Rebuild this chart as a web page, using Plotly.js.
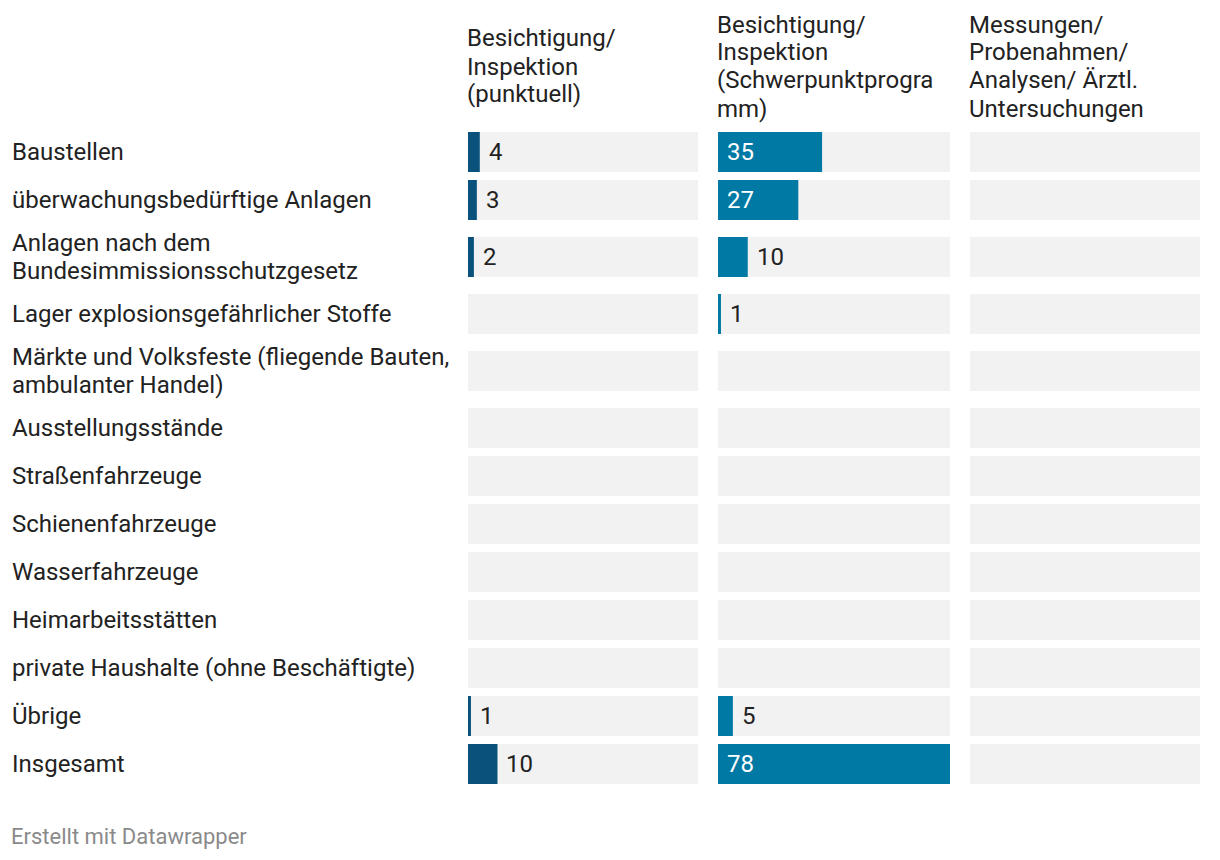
<!DOCTYPE html>
<html>
<head>
<meta charset="utf-8">
<script src="https://cdn.plot.ly/plotly-3.0.1.min.js"></script>
<style>
  html, body { margin: 0; padding: 0; background: #ffffff; }
  #chart { width: 1220px; height: 860px; }
</style>
</head>
<body>
<div id="chart"></div>
<script>
// ---- data ----
const categories = [
  "Baustellen",
  "überwachungsbedürftige Anlagen",
  "Anlagen nach dem<br>Bundesimmissionsschutzgesetz",
  "Lager explosionsgefährlicher Stoffe",
  "Märkte und Volksfeste (fliegende Bauten,<br>ambulanter Handel)",
  "Ausstellungsstände",
  "Straßenfahrzeuge",
  "Schienenfahrzeuge",
  "Wasserfahrzeuge",
  "Heimarbeitsstätten",
  "private Haushalte (ohne Beschäftigte)",
  "Übrige",
  "Insgesamt"
];
const columnTitles = [
  "Besichtigung/<br>Inspektion<br>(punktuell)",
  "Besichtigung/<br>Inspektion<br>(Schwerpunktprogra<br>mm)",
  "Messungen/<br>Probenahmen/<br>Analysen/ Ärztl.<br>Untersuchungen"
];
const punktuell    = [4, 3, 2, null, null, null, null, null, null, null, null, 1, 10];
const schwerpunkt  = [35, 27, 10, 1, null, null, null, null, null, null, null, 5, 78];
const messungen    = [null, null, null, null, null, null, null, null, null, null, null, null, null];

// ---- layout helpers ----
const W = 1220, H = 860;
const MT = 120, MB = 60;
const PH = H - MT - MB;
const columns = [punktuell, schwerpunkt, messungen];
const colColors = ["#0a527b", "#0079a4", "#0079a4"];
const colDomainsPx = [[468, 698], [718, 950], [970, 1200]];
const FONT = "Roboto, 'Noto Sans', sans-serif";
const FS = 24;
const LINE = 28;
const TXT = "#222222";

const maxVal = Math.max(...columns.flat().filter(v => v !== null));

// row centres derived from number of label lines
const barH = 40, rowBase = 48, extraPerLine = 18;
const centers = [];
let cursor = 128;
categories.forEach(c => {
  const lines = c.split("<br>").length;
  const h = rowBase + extraPerLine * (lines - 1);
  centers.push(cursor + h / 2);
  cursor += h;
});

const pxToPaperY = px => (H - MB - px) / PH;

const traces = [];
const annotations = [];
const axNames = ["x", "x2", "x3"];
columns.forEach((vals, ci) => {
  const ax = axNames[ci];
  traces.push({
    type: "bar", orientation: "h", xaxis: ax, yaxis: "y",
    y: centers, x: categories.map(() => maxVal), width: barH,
    marker: { color: "#f2f2f2" }, hoverinfo: "skip", showlegend: false
  });
  traces.push({
    type: "bar", orientation: "h", xaxis: ax, yaxis: "y",
    y: centers, x: vals, width: barH,
    marker: { color: colColors[ci] }, hoverinfo: "skip", showlegend: false
  });
  const pxWidth = colDomainsPx[ci][1] - colDomainsPx[ci][0];
  vals.forEach((v, i) => {
    if (v === null) return;
    const inside = v / maxVal * pxWidth > 60;
    annotations.push({
      xref: ax, yref: "y", x: inside ? 0 : v, y: centers[i],
      xanchor: "left", yanchor: "middle", xshift: 7, showarrow: false,
      text: String(v),
      font: { family: FONT, size: FS, color: inside ? "#ffffff" : TXT }
    });
  });
  const tl = columnTitles[ci].split("<br>");
  tl.forEach((line, k) => {
    const py = 66.5 + (k - (tl.length - 1) / 2) * LINE;
    annotations.push({
      xref: "paper", yref: "paper",
      x: colDomainsPx[ci][0] / W - 0.0025, y: pxToPaperY(py),
      xanchor: "left", yanchor: "middle", align: "left", showarrow: false,
      text: line,
      font: { family: FONT, size: FS, color: TXT }
    });
  });
});

categories.forEach((c, i) => {
  const ls = c.split("<br>");
  ls.forEach((line, k) => {
    annotations.push({
      xref: "paper", yref: "y", x: 0.0085,
      y: centers[i] + (k - (ls.length - 1) / 2) * LINE,
      xanchor: "left", yanchor: "middle", align: "left", showarrow: false,
      text: line, font: { family: FONT, size: FS, color: TXT }
    });
  });
});

annotations.push({
  xref: "paper", yref: "paper", x: 0.0075, y: pxToPaperY(836),
  xanchor: "left", yanchor: "middle", showarrow: false,
  text: "Erstellt mit Datawrapper",
  font: { family: FONT, size: 22, color: "#8a8a8a" }
});

const hiddenAx = { showgrid: false, zeroline: false, showticklabels: false, ticks: "", showline: false, fixedrange: true };
const layout = {
  width: W, height: H,
  margin: { l: 0, r: 0, t: MT, b: MB, pad: 0 },
  paper_bgcolor: "#ffffff", plot_bgcolor: "#ffffff",
  barmode: "overlay",
  showlegend: false,
  xaxis:  Object.assign({}, hiddenAx, { domain: [colDomainsPx[0][0] / W, colDomainsPx[0][1] / W], range: [0, maxVal], anchor: "y" }),
  xaxis2: Object.assign({}, hiddenAx, { domain: [colDomainsPx[1][0] / W, colDomainsPx[1][1] / W], range: [0, maxVal], anchor: "y" }),
  xaxis3: Object.assign({}, hiddenAx, { domain: [colDomainsPx[2][0] / W, colDomainsPx[2][1] / W], range: [0, maxVal], anchor: "y" }),
  yaxis:  Object.assign({}, hiddenAx, { range: [H - MB, MT], anchor: "x" }),
  annotations: annotations,
  font: { family: FONT, color: TXT }
};

Plotly.newPlot("chart", traces, layout, { displayModeBar: false, staticPlot: true });
</script>
</body>
</html>
